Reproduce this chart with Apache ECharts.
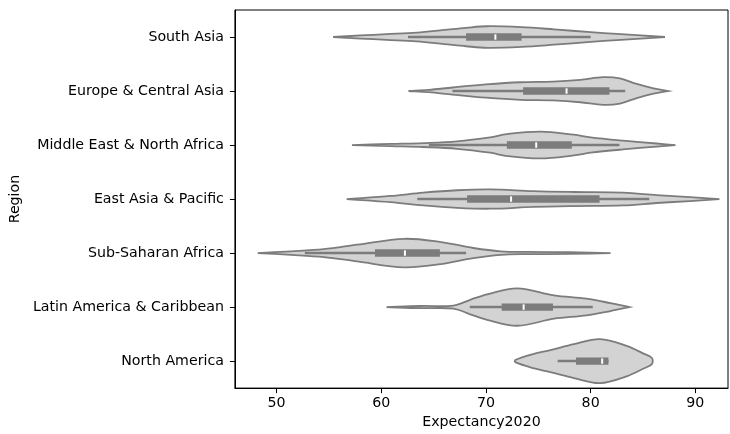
<!DOCTYPE html>
<html><head><meta charset="utf-8">
<script src="https://cdn.jsdelivr.net/npm/echarts@6/dist/echarts.min.js"></script>
<style>html,body{margin:0;padding:0;background:#fff}#c{width:730px;height:434px}</style>
</head><body><div id="c"></div>
<script>
// Categories (top to bottom)
const regions = ['South Asia','Europe & Central Asia','Middle East & North Africa','East Asia & Pacific','Sub-Saharan Africa','Latin America & Caribbean','North America'];

// Violin outlines: [Expectancy2020, relative density]
const violinSouthAsia = [[55.4,0],[58.0,0.07],[60.5,0.13],[63.4,0.2],[66.0,0.32],[68.1,0.42],[70.1,0.49],[73.4,0.45],[76.5,0.35],[80.0,0.22],[82.5,0.14],[84.8,0.07],[87.1,0]];
const violinEurope = [[62.6,0],[64.5,0.05],[66.8,0.16],[70.0,0.30],[73.3,0.40],[76.4,0.43],[79.0,0.51],[81.2,0.63],[82.8,0.57],[84.4,0.32],[86.0,0.12],[87.4,0]];
const violinMENA = [[57.2,0],[60.9,0.05],[64.0,0.09],[67.25,0.17],[70.4,0.35],[72.0,0.50],[75.2,0.61],[78.4,0.47],[80.0,0.35],[83.1,0.20],[86.3,0.07],[88.1,0]];
const violinEAP = [[56.7,0],[60.9,0.14],[64.0,0.29],[67.25,0.40],[70.4,0.44],[74.5,0.36],[78.4,0.32],[83.1,0.29],[86.3,0.18],[89.5,0.09],[92.3,0]];
const violinSSA = [[48.2,0],[51.4,0.08],[54.5,0.18],[57.7,0.38],[62.2,0.65],[65.7,0.50],[68.8,0.23],[71.4,0.08],[74.0,0.05],[78.0,0.04],[81.9,0]];
const violinLAC = [[60.5,0],[63.75,0.05],[66.9,0.07],[68.5,0.33],[70.1,0.58],[73.0,0.85],[76.5,0.53],[79.6,0.38],[81.9,0.18],[83.7,0]];
const violinNA = [[72.8,0.05],[74.5,0.32],[76.15,0.50],[78.4,0.77],[80.9,1.0],[83.5,0.68],[85.0,0.35],[85.85,0.14]];
const violins = [violinSouthAsia, violinEurope, violinMENA, violinEAP, violinSSA, violinLAC, violinNA];

// Inner box statistics
const whiskerLow  = [62.55, 66.8, 64.55, 63.44, 52.7, 68.46, 76.85];
const q1          = [68.1, 73.55, 72.0, 68.2, 59.4, 71.5, 78.6];
const median      = [70.9, 77.7, 74.8, 72.4, 62.26, 73.6, 81.1];
const q3          = [73.4, 81.8, 78.2, 80.85, 65.6, 76.4, 81.7];
const whiskerHigh = [80.0, 83.3, 82.75, 85.6, 68.1, 80.2, 81.7];

const xTicks = [50, 60, 70, 80, 90];

const FONT = 'DejaVu Sans';
const FS = 14.2;
const chart = echarts.init(document.getElementById('c'), null, {renderer: 'canvas'});

function renderItem(params, api) {
  const i = api.value(1);
  const band = api.size([0, 1])[1];
  const scale = band * 0.407;
  const cy = api.coord([median[i], i])[1];
  const px = v => api.coord([v, i])[0];
  const prof = violins[i];
  const pts = [];
  prof.forEach(([v, w]) => pts.push([px(v), cy - w * scale]));
  for (let k = prof.length - 1; k >= 0; k--) pts.push([px(prof[k][0]), cy + prof[k][1] * scale]);
  return {
    type: 'group',
    children: [
      { type: 'polygon', shape: { points: pts, smooth: 0.35 },
        style: { fill: '#d3d3d3', stroke: '#7c7c7c', lineWidth: 1.8 } },
      { type: 'line', shape: { x1: px(whiskerLow[i]), y1: cy, x2: px(whiskerHigh[i]), y2: cy },
        style: { stroke: '#7c7c7c', lineWidth: 2.5 } },
      { type: 'rect', shape: { x: px(q1[i]), y: cy - 3.7, width: px(q3[i]) - px(q1[i]), height: 7.4 },
        style: { fill: '#7c7c7c' } },
      { type: 'line', shape: { x1: px(median[i]), y1: cy - 2.7, x2: px(median[i]), y2: cy + 2.7 },
        style: { stroke: '#ffffff', lineWidth: 2 } }
    ]
  };
}

chart.setOption({
  animation: false,
  grid: { left: 234, right: 2, top: 10, bottom: 45, show: true, borderColor: '#000', borderWidth: 1 },
  xAxis: {
    type: 'value', min: 46.02, max: 93.12,
    axisLine: { show: true, lineStyle: { color: '#000', width: 1 } },
    axisTick: { show: true, length: 5, customValues: xTicks, lineStyle: { color: '#000' } },
    axisLabel: { customValues: xTicks, color: '#000', fontFamily: FONT, fontSize: FS, margin: 8 },
    splitLine: { show: false },
    name: 'Expectancy2020', nameLocation: 'middle', nameGap: 25,
    nameTextStyle: { color: '#000', fontFamily: FONT, fontSize: FS }
  },
  yAxis: {
    type: 'category', data: regions, inverse: true, boundaryGap: true,
    axisLine: { show: true, lineStyle: { color: '#000', width: 1 } },
    axisTick: { show: true, alignWithLabel: true, length: 5, lineStyle: { color: '#000' } },
    axisLabel: { color: '#000', fontFamily: FONT, fontSize: FS, margin: 11 },
    splitLine: { show: false },
    name: 'Region', nameLocation: 'middle', nameGap: 205,
    nameTextStyle: { color: '#000', fontFamily: FONT, fontSize: FS }
  },
  series: [{
    type: 'custom', clip: false,
    data: regions.map((r, i) => [median[i], i]),
    encode: { x: 0, y: 1 },
    renderItem: renderItem
  }]
});
</script></body></html>
